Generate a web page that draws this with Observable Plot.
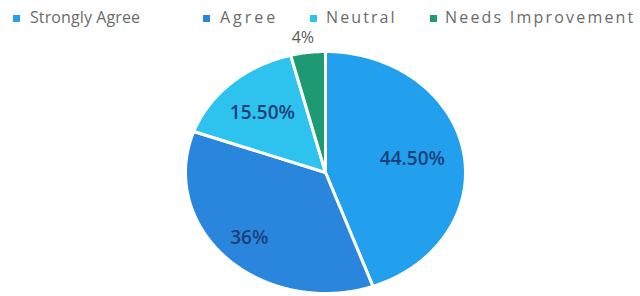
<!DOCTYPE html>
<html>
<head>
<meta charset="utf-8">
<script src="https://cdn.jsdelivr.net/npm/d3@7"></script>
<script src="https://cdn.jsdelivr.net/npm/@observablehq/plot@0.6"></script>
<style>
  html, body { margin: 0; padding: 0; background: #fff; }
  #wrap { position: relative; width: 640px; height: 296px; overflow: hidden; }
  #legend { position: absolute; left: 0; top: 0; width: 640px; height: 40px; font-family: "Open Sans", sans-serif; font-size: 16px; color: #6b6b6b; }
  .sw { position: absolute; top: 15px; width: 7px; height: 7px; }
  .lt { position: absolute; top: 6px; white-space: nowrap; }
</style>
</head>
<body>
<div id="wrap"><div id="legend"></div></div>
<script>
const categories = ["Strongly Agree", "Agree", "Neutral", "Needs Improvement"];
const values = [44.5, 36, 15.5, 4];
const labels = ["44.50%", "36%", "15.50%", "4%"];
const colors = ["#22a0ee", "#2a86dc", "#2ec3ef", "#1e9a72"];
const labelColors = ["#1d3f7a", "#1d3f7a", "#1d3f7a", "#5a5a5a"];
const labelRadius = [0.63, 0.77, 0.67, 1.12];

// legend (HTML, above the SVG)
const legendSwatchX = [13, 203, 310, 430];
const legendTextX = [30, 220, 326, 445];
const legendSpacing = [0.1, 3, 2.1, 2.2];
const legend = document.getElementById("legend");
categories.forEach((c, i) => {
  const s = document.createElement("div");
  s.className = "sw"; s.style.left = legendSwatchX[i] + "px"; s.style.background = colors[i];
  legend.appendChild(s);
  const t = document.createElement("div");
  t.className = "lt"; t.style.left = legendTextX[i] + "px"; t.style.letterSpacing = legendSpacing[i] + "px"; t.textContent = c;
  legend.appendChild(t);
});

// slice geometry from the data (start at 12 o'clock, clockwise)
const pie = d3.pie().sort(null).value(d => d.value);
const arcs = pie(categories.map((c, i) => ({category: c, value: values[i], i})));
const slicePts = [];
const labelPts = [];
arcs.forEach(a => {
  const c = a.data.category;
  slicePts.push({category: c, x: 0, y: 0});
  const n = Math.max(2, Math.ceil((a.endAngle - a.startAngle) / 0.01));
  for (let k = 0; k <= n; k++) {
    const t = a.startAngle + (a.endAngle - a.startAngle) * k / n;
    slicePts.push({category: c, x: Math.sin(t), y: Math.cos(t)});
  }
  slicePts.push({category: c, x: 0, y: 0});
  const m = (a.startAngle + a.endAngle) / 2;
  const r = labelRadius[a.data.i];
  labelPts.push({category: c, label: labels[a.data.i], x: r * Math.sin(m), y: r * Math.cos(m), color: labelColors[a.data.i], i: a.data.i});
});

const chart = Plot.plot({
  width: 640,
  height: 296,
  marginLeft: 185,
  marginRight: 175,
  marginTop: 51,
  marginBottom: 3,
  x: {domain: [-1, 1], axis: null},
  y: {domain: [-1, 1], axis: null},
  color: {domain: categories, range: colors},
  style: {background: "transparent", overflow: "visible"},
  marks: [
    Plot.line(slicePts, {x: "x", y: "y", z: "category", fill: "category", stroke: "white", strokeWidth: 3, strokeLinejoin: "round", curve: "linear"}),
    Plot.text(labelPts.filter(d => d.i < 3), {x: "x", y: "y", text: "label", fill: "color", fontSize: 19, fontWeight: 600, fontFamily: "Open Sans", style: "letter-spacing:1px"}),
    Plot.text(labelPts.filter(d => d.i === 3), {x: "x", y: "y", text: "label", fill: "color", fontSize: 16, fontFamily: "Open Sans", dx: -3, style: "letter-spacing:1px"})
  ]
});
chart.style.position = "absolute";
chart.style.left = "0px";
chart.style.top = "0px";
document.getElementById("wrap").appendChild(chart);
</script>
</body>
</html>
